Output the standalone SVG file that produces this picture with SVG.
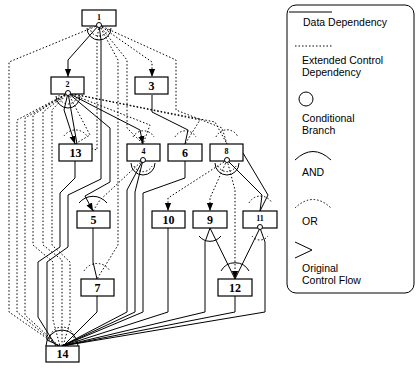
<svg xmlns="http://www.w3.org/2000/svg" width="417" height="369" viewBox="0 0 417 369">
<style>
.box{fill:#fff;stroke:#000;stroke-width:1.2}
.d{fill:none;stroke:#000;stroke-width:1}
.c{fill:none;stroke:#000;stroke-width:1;stroke-dasharray:1.5 2}
.lb{font-family:"Liberation Serif","Times New Roman",serif;font-weight:bold;font-size:12px;text-anchor:middle}
.ls{font-family:"Liberation Serif","Times New Roman",serif;font-weight:bold;font-size:8px;text-anchor:middle}
.lg{font-family:"Liberation Sans",Arial,sans-serif;font-size:10.5px}
.br{fill:#fff;stroke:#000;stroke-width:1}
</style>
<defs>
<marker id="ah" markerUnits="userSpaceOnUse" markerWidth="8" markerHeight="11" refX="9" refY="3.5" orient="auto" viewBox="0 0 9 7">
<path d="M0,0 L9,3.5 L0,7 Z" fill="#000"/>
</marker>
</defs>

<g id="connectors">
<!-- data dependencies -->
<path class="d" d="M99,25 L68,60 L68,77" marker-end="url(#ah)"/>
<path class="d" d="M99,25 L101,40 L101,179 L68,195 L68,247 L47,262 L47,340 L60,346"/>
<path class="d" d="M68,93 L64,110 L75,144" marker-end="url(#ah)"/>
<path class="d" d="M68,93 L77,144"/>
<path class="d" d="M68,93 L140,130 L143,144" marker-end="url(#ah)"/>
<path class="d" d="M68,93 L110,128 L110,182 L85,196 L93,211" marker-end="url(#ah)"/>
<path class="d" d="M152,95 L152,112 L188,130 L185,144"/>
<path class="d" d="M75,161 L75,178 L60,193 L60,247 L38,262 L38,317 L56,346"/>
<path class="d" d="M143,160 L127,190 L127,312 L62,346"/>
<path class="d" d="M143,160 L135,192 L135,312 L62,346"/>
<path class="d" d="M185,161 L185,178 L143,193 L143,312 L62,346"/>
<path class="d" d="M93,228 L93,262 L97,279"/>
<path class="d" d="M97,296 L97,312 L63,346"/>
<path class="d" d="M168,228 L168,312 L62,346"/>
<path class="d" d="M210,228 L205,242 L205,312 L62,346"/>
<path class="d" d="M210,228 L235,279"/>
<path class="d" d="M260,228 L235,279"/>
<path class="d" d="M260,228 L265,242 L265,312 L62,346"/>
<path class="d" d="M235,296 L235,312 L62,346"/>
<path class="d" d="M227,160 L262,195 L260,211"/>
<path class="d" d="M243,153 L268,195 L260,211"/>

<!-- extended control dependencies -->
<path class="c" d="M99,25 L152,62 L152,77" marker-end="url(#ah)"/>
<path class="c" d="M99,25 L9,62 L9,312 L58,346"/>
<path class="c" d="M99,25 L176,60 L176,110 L222,128 L227,144"/>
<path class="c" d="M99,25 L97,40 L97,150 L75,144"/>
<path class="c" d="M99,25 L118,60 L118,245 L97,279"/>
<path class="c" d="M99,25 L127,60 L127,128 L143,144"/>
<path class="c" d="M68,93 L17,120 L17,312 L58,346"/>
<path class="c" d="M68,93 L25,118 L25,315 L59,346"/>
<path class="c" d="M68,93 L33,115 L33,245 L53,262 L53,320 L60,346"/>
<path class="c" d="M68,93 L43,112 L43,245 L62,260 L62,346"/>
<path class="c" d="M68,93 L52,110 L52,245 L70,262 L70,322 L63,346"/>
<path class="c" d="M68,93 L90,135 L75,144"/>
<path class="c" d="M68,93 L150,125 L143,144"/>
<path class="c" d="M68,93 L200,120 L185,144"/>
<path class="c" d="M68,93 L215,122 L227,144"/>
<path class="c" d="M143,160 L100,200 L93,211"/>
<path class="c" d="M227,160 L168,198 L168,211" marker-end="url(#ah)"/>
<path class="c" d="M227,160 L210,198 L210,211" marker-end="url(#ah)"/>
<path class="c" d="M227,160 L235,190 L235,279" marker-end="url(#ah)"/>

<!-- AND arcs -->
<path class="d" d="M87,28 A12,12 0 0 0 111,28"/>
<path class="d" d="M56,96 A12,12 0 0 0 80,96"/>
<path class="d" d="M131,163 A12,12 0 0 0 155,163"/>
<path class="d" d="M215,163 A12,12 0 0 0 239,163"/>
<path class="d" d="M79,203 A18,18 0 0 1 107,203"/>
<path class="d" d="M199,236 A14,14 0 0 0 221,236"/>
<path class="d" d="M221,271 A16,16 0 0 1 249,271"/>
<path class="d" d="M46,346 A16,16 0 0 1 78,346"/>
<!-- OR arcs -->
<path class="c" d="M90,27 A9,9 0 0 0 108,27"/>
<path class="c" d="M59,95 A9,9 0 0 0 77,95"/>
<path class="c" d="M64,136 A14,14 0 0 1 87,136"/>
<path class="c" d="M133,137 A12,12 0 0 1 154,137"/>
<path class="c" d="M175,137 A12,12 0 0 1 196,137"/>
<path class="c" d="M216,137 A12,12 0 0 1 238,137"/>
<path class="c" d="M134,166 A10,10 0 0 0 152,166"/>
<path class="c" d="M218,166 A10,10 0 0 0 236,166"/>
<path class="c" d="M249,203 A13,13 0 0 1 272,203"/>
<path class="c" d="M252,236 A10,10 0 0 0 268,236"/>
<path class="c" d="M84,271 A15,15 0 0 1 110,271"/>
<path class="c" d="M50,339 A12,12 0 0 1 74,339"/>
</g>

<g id="n1"><rect class="box" x="82" y="10" width="34" height="16"/><text class="ls" x="99" y="20">1</text><circle class="br" cx="99" cy="25" r="2.5"/></g>
<g id="n2"><rect class="box" x="51" y="77" width="33" height="17"/><text class="ls" x="67.5" y="87">2</text><circle class="br" cx="68" cy="93" r="2.5"/></g>
<g id="n3"><rect class="box" x="135" y="77" width="33" height="17"/><text class="lb" x="151.5" y="90">3</text></g>
<g id="n13"><rect class="box" x="59" y="144" width="33" height="17"/><text class="lb" x="75.5" y="157">13</text></g>
<g id="n4"><rect class="box" x="127" y="144" width="33" height="17"/><text class="ls" x="143.5" y="154">4</text><circle class="br" cx="143" cy="160" r="2.5"/></g>
<g id="n6"><rect class="box" x="168" y="144" width="34" height="17"/><text class="lb" x="185" y="157">6</text></g>
<g id="n8"><rect class="box" x="210" y="144" width="33" height="17"/><text class="ls" x="226.5" y="154">8</text><circle class="br" cx="227" cy="160" r="2.5"/></g>
<g id="n5"><rect class="box" x="77" y="211" width="33" height="17"/><text class="lb" x="93.5" y="224">5</text></g>
<g id="n10"><rect class="box" x="152" y="211" width="33" height="17"/><text class="lb" x="168.5" y="224">10</text></g>
<g id="n9"><rect class="box" x="193" y="211" width="34" height="17"/><text class="lb" x="210" y="224">9</text></g>
<g id="n11"><rect class="box" x="243" y="211" width="34" height="17"/><text class="ls" x="260" y="221">11</text><circle class="br" cx="260" cy="227" r="2.5"/></g>
<g id="n7"><rect class="box" x="81" y="279" width="33" height="17"/><text class="lb" x="97.5" y="292">7</text></g>
<g id="n12"><rect class="box" x="218" y="279" width="34" height="17"/><text class="lb" x="235" y="292">12</text></g>
<g id="n14"><rect class="box" x="46" y="346" width="33" height="16"/><text class="lb" x="62.5" y="358">14</text></g>

<g id="legend">
<rect x="287" y="5" width="127" height="288" rx="9" fill="none" stroke="#000" stroke-width="1"/>
<line class="d" x1="289" y1="12" x2="332" y2="12"/>
<text class="lg" x="303" y="26">Data Dependency</text>
<line class="c" x1="295" y1="46" x2="332" y2="46"/>
<text class="lg" x="302" y="64">Extended Control</text>
<text class="lg" x="302" y="76">Dependency</text>
<circle cx="306" cy="99" r="7" fill="none" stroke="#000" stroke-width="1"/>
<text class="lg" x="302" y="122">Conditional</text>
<text class="lg" x="302" y="134">Branch</text>
<path class="d" d="M295,160 Q313,143 331,160"/>
<text class="lg" x="302" y="176">AND</text>
<path class="c" d="M295,208 Q313,191 331,208"/>
<text class="lg" x="302" y="225">OR</text>
<path class="d" d="M295,242 L312,250 L295,258"/>
<text class="lg" x="302" y="272">Original</text>
<text class="lg" x="302" y="284">Control Flow</text>
</g>
</svg>
